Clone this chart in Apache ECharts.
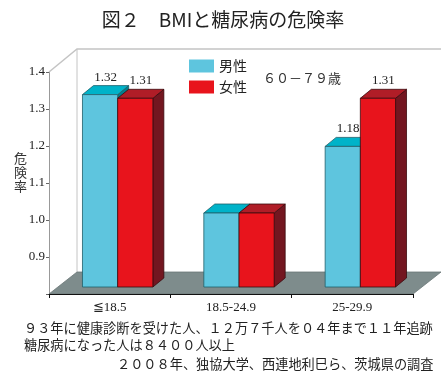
<!DOCTYPE html>
<html>
<head>
<meta charset="utf-8">
<script src="https://cdn.jsdelivr.net/npm/echarts@6/dist/echarts.min.js"></script>
<style>html,body{margin:0;padding:0;background:#fff;}#c{width:446px;height:384px;}</style>
</head>
<body>
<div id="c"></div>
<script>
// ---- data ----
const categories = ['≦18.5', '18.5-24.9', '25-29.9'];
const seriesNames = ['男性', '女性'];
const maleValues = [1.32, 1.00, 1.18];
const femaleValues = [1.31, 1.00, 1.31];
const maleLabels = ['1.32', '', '1.18'];
const femaleLabels = ['1.31', '', '1.31'];
const yMin = 0.8, yMax = 1.4, yInterval = 0.1;
const titleText = '図２　BMIと糖尿病の危険率';
const ageText = '６０－７９歳';
const yName = '危険率';
const notes = [
  '９３年に健康診断を受けた人、１２万７千人を０４年まで１１年追跡',
  '糖尿病になった人は８４００人以上',
  '２００８年、独協大学、西連地利巳ら、茨城県の調査'
];

const serif = '"Liberation Serif","DejaVu Serif",serif';
const jp = '"Noto Sans CJK JP","Noto Sans",sans-serif';

const maleColors = {front: '#5ec5de', top: '#00b3c9', side: '#00808f', stroke: '#1f5f6a'};
const femaleColors = {front: '#e8141c', top: '#b01d27', side: '#731620', stroke: '#3a0a0e'};

function makeBar(sideIdx, col, labels) {
  return function (params, api) {
    const i = api.value(0), v = api.value(1);
    const top = api.coord([i, v]);
    const base = api.coord([i, yMin]);
    const band = api.size([1, 0])[0];
    const w = band * 0.29;
    const sx = 8, sy = -7, dx = 11, dy = -9;
    const x0 = (sideIdx === 0 ? top[0] - w : top[0]) + sx;
    const x1 = x0 + w;
    const yt = top[1] + sy, yb = base[1] + sy;
    const st = {stroke: col.stroke, lineWidth: 0.8};
    const children = [
      {type: 'polygon', shape: {points: [[x1, yt], [x1 + dx, yt + dy], [x1 + dx, yb + dy], [x1, yb]]},
        style: Object.assign({fill: col.side}, st)},
      {type: 'polygon', shape: {points: [[x0, yt], [x1, yt], [x1 + dx, yt + dy], [x0 + dx, yt + dy]]},
        style: Object.assign({fill: col.top}, st)},
      {type: 'rect', shape: {x: x0, y: yt, width: w, height: yb - yt},
        style: Object.assign({fill: col.front}, st)}
    ];
    const lab = labels[params.dataIndex];
    if (lab) {
      children.push({type: 'text', style: {text: lab, x: x0 + w / 2 + dx / 2, y: yt + dy - 2,
        align: 'center', verticalAlign: 'bottom', font: '13px ' + serif, fill: '#222'}});
    }
    return {type: 'group', children: children};
  };
}

function renderBox(params, api) {
  const c = params.coordSys;
  const x = c.x, y = c.y, w = c.width, h = c.height;
  const DX = 28, DY = -22;
  return {type: 'group', children: [
    {type: 'polyline', shape: {points: [[x, y], [x + DX, y + DY - 1], [x + w + DX, y + DY - 1]]},
      style: {stroke: '#c4c4c4', lineWidth: 1.5, fill: null}},
    {type: 'line', shape: {x1: x + DX, y1: y + DY - 1, x2: x + DX, y2: y + h + DY},
      style: {stroke: '#c4c4c4', lineWidth: 1}},
    {type: 'polygon', shape: {points: [[x, y + h], [x + w, y + h], [x + w + DX, y + h + DY], [x + DX, y + h + DY]]},
      style: {fill: '#7e8c8c', stroke: '#6a7676', lineWidth: 0.8}}
  ]};
}

const chart = echarts.init(document.getElementById('c'), null, {renderer: 'canvas'});
chart.setOption({
  backgroundColor: '#fff',
  animation: false,
  title: [
    {text: titleText, left: 'center', top: 5, textStyle: {fontFamily: jp, fontSize: 19, fontWeight: 'normal', color: '#222'}},
    {text: ageText, left: 258, top: 67, textStyle: {fontFamily: jp, fontSize: 13, fontWeight: 'normal', color: '#333'}},
    {text: yName.split('').join('\n'), left: 9, top: 146, textStyle: {fontFamily: jp, fontSize: 13, lineHeight: 14, fontWeight: 'normal', color: '#333'}},
    {text: notes[0], left: 19, top: 316, textStyle: {fontFamily: jp, fontSize: 13.2, fontWeight: 'normal', color: '#222'}},
    {text: notes[1], left: 19, top: 333, textStyle: {fontFamily: jp, fontSize: 13.2, fontWeight: 'normal', color: '#222'}},
    {text: notes[2], left: 112, top: 352, textStyle: {fontFamily: jp, fontSize: 13.2, fontWeight: 'normal', color: '#222'}}
  ],
  legend: {
    data: seriesNames, orient: 'vertical', left: 189, top: 59, itemWidth: 25, itemHeight: 13, itemGap: 7,
    icon: 'rect', padding: 0,
    textStyle: {fontFamily: jp, fontSize: 14, color: '#222'}
  },
  grid: {left: 49, right: 33, top: 72, bottom: 90},
  xAxis: {
    type: 'category', data: categories, z: 10,
    axisLine: {lineStyle: {color: '#111', width: 1}},
    axisTick: {show: true, length: 4, lineStyle: {color: '#111'}},
    axisLabel: {fontFamily: serif, fontSize: 13, color: '#222', margin: 7}
  },
  yAxis: {
    type: 'value', min: yMin, max: yMax, interval: yInterval,
    splitLine: {show: false},
    axisLine: {show: true, lineStyle: {color: '#999'}},
    axisTick: {show: true, length: 3, lineStyle: {color: '#666'}},
    axisLabel: {fontFamily: serif, fontSize: 13, color: '#222', margin: 4,
      formatter: function (v) { return v < yMin + 0.05 ? '' : v.toFixed(1); }}
  },
  series: [
    {type: 'custom', name: 'box', silent: true, z: 1, renderItem: renderBox, data: [[0, yMin]], clip: false},
    {type: 'custom', name: seriesNames[0], itemStyle: {color: maleColors.front}, z: 3, clip: false,
      renderItem: makeBar(0, maleColors, maleLabels), data: maleValues.map((v, i) => [i, v])},
    {type: 'custom', name: seriesNames[1], itemStyle: {color: femaleColors.front}, z: 4, clip: false,
      renderItem: makeBar(1, femaleColors, femaleLabels), data: femaleValues.map((v, i) => [i, v])}
  ]
});
</script>
</body>
</html>
